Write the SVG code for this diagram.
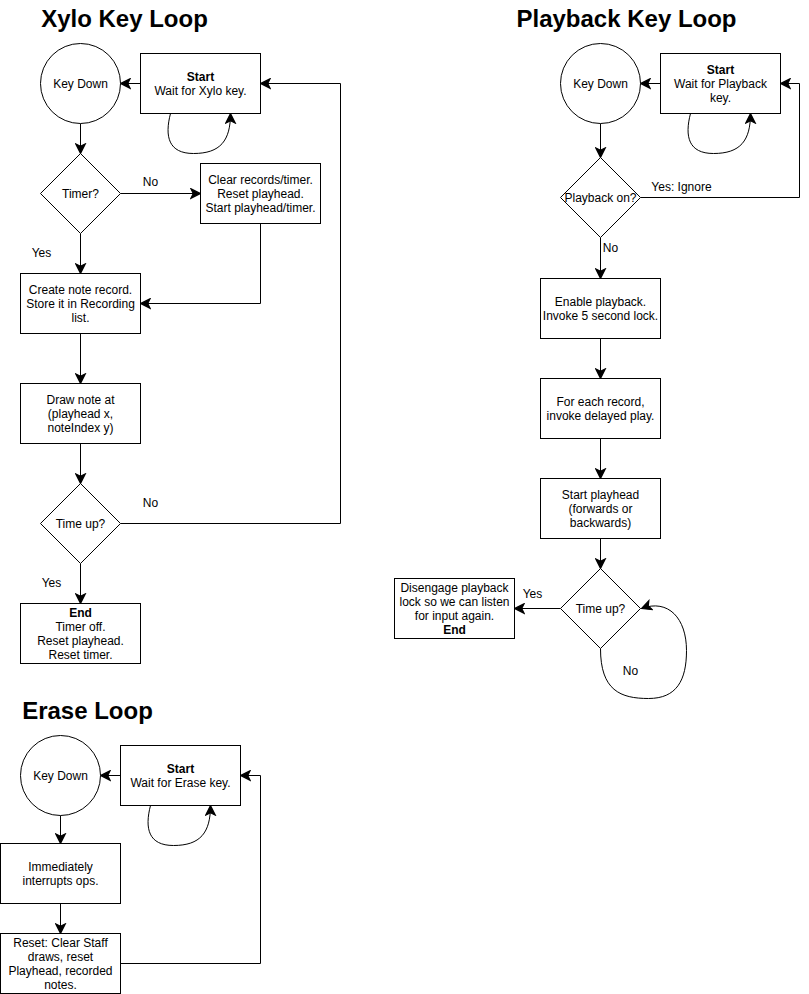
<svg xmlns="http://www.w3.org/2000/svg" width="809" height="994" viewBox="0 0 809 994">
  <style>
    .shape { fill: #ffffff; stroke: #000000; stroke-width: 1; }
    .edge { fill: none; stroke: #000000; stroke-width: 1; }
    .arrow { marker-end: url(#arrowhead); }
    text { font-family: "Liberation Sans", Arial, Helvetica, sans-serif; font-size: 12px; fill: #000000; text-anchor: middle; }
    .title { font-size: 24px; font-weight: bold; }
    .b { font-weight: bold; }
    .lbl { fill: #000000; }
  </style>
  <defs>
    <marker id="arrowhead" markerUnits="userSpaceOnUse" markerWidth="12" markerHeight="12" viewBox="-9 -5 10 10" refX="0" refY="0" orient="auto">
      <path d="M0,0 L-8,-4 L-6,0 L-8,4 Z" fill="#000000" stroke="#000000" stroke-width="1" stroke-linejoin="miter"/>
    </marker>
  </defs>
  <rect x="0" y="0" width="809" height="994" fill="#ffffff"/>

  <g transform="translate(0.5,0.5)">
    <!-- Section titles -->
    <text class="title" x="124" y="26">Xylo Key Loop</text>
    <text class="title" x="626" y="26">Playback Key Loop</text>
    <text class="title" x="87" y="718">Erase Loop</text>

    <!-- Connectors -->
    <g id="connectors">
      <!-- Xylo key loop -->
      <path class="edge arrow" d="M140 83 L120 83"/>
      <path class="edge arrow" d="M170 113 C 164 136, 168 153, 193 153 C 220 153, 230 140, 230 113"/>
      <path class="edge arrow" d="M80 123 L80 153"/>
      <path class="edge arrow" d="M120 193 L200 193"/>
      <path class="edge arrow" d="M80 233 L80 273"/>
      <path class="edge arrow" d="M260 223 L260 303 L140 303"/>
      <path class="edge arrow" d="M80 333 L80 383"/>
      <path class="edge arrow" d="M80 443 L80 483"/>
      <path class="edge arrow" d="M120 523 L340 523 L340 83 L260 83"/>
      <path class="edge arrow" d="M80 563 L80 603"/>

      <!-- Playback key loop -->
      <path class="edge arrow" d="M660 83 L640 83"/>
      <path class="edge arrow" d="M690 113 C 684 136, 688 153, 713 153 C 740 153, 750 140, 750 113"/>
      <path class="edge arrow" d="M600 123 L600 157"/>
      <path class="edge arrow" d="M640 197 L799 197 L799 83 L780 83"/>
      <path class="edge arrow" d="M600 237 L600 278"/>
      <path class="edge arrow" d="M600 338 L600 378"/>
      <path class="edge arrow" d="M600 438 L600 478"/>
      <path class="edge arrow" d="M600 538 L600 568"/>
      <path class="edge arrow" d="M560 608 L514 608"/>
      <path class="edge arrow" d="M600 648 C 600 690, 620 698, 648 698 C 676 698, 686 680, 686 650 C 686 618, 668 598, 641 608"/>

      <!-- Erase loop -->
      <path class="edge arrow" d="M120 775 L100 775"/>
      <path class="edge arrow" d="M150 805 C 144 828, 148 845, 173 845 C 200 845, 210 832, 210 805"/>
      <path class="edge arrow" d="M60 815 L60 843"/>
      <path class="edge arrow" d="M60 903 L60 933"/>
      <path class="edge arrow" d="M120 963 L260 963 L260 775 L240 775"/>
    </g>

    <!-- Connector labels -->
    <g id="edge-labels">
      <text x="150" y="185">No</text>
      <text x="41" y="256">Yes</text>
      <text x="150" y="506">No</text>
      <text x="51" y="586">Yes</text>
      <text x="681" y="190" >Yes: Ignore</text>
      <text x="610" y="251">No</text>
      <text x="532" y="597">Yes</text>
      <text x="630" y="674">No</text>
    </g>

    <!-- Xylo key loop nodes -->
    <g id="xylo-keydown">
      <circle class="shape" cx="80" cy="83" r="40"/>
      <text x="80" y="87.5">Key Down</text>
    </g>
    <g id="xylo-start">
      <rect class="shape" x="140" y="53" width="120" height="60"/>
      <text class="b" x="200" y="80.5">Start</text>
      <text x="200" y="94.5">Wait for Xylo key.</text>
    </g>
    <g id="xylo-timer">
      <polygon class="shape" points="80,153 120,193 80,233 40,193"/>
      <text x="80" y="197.5">Timer?</text>
    </g>
    <g id="xylo-clear">
      <rect class="shape" x="200" y="163" width="120" height="60"/>
      <text x="260" y="183.5">Clear records/timer.</text>
      <text x="260" y="197.5">Reset playhead.</text>
      <text x="260" y="211.5">Start playhead/timer.</text>
    </g>
    <g id="xylo-create">
      <rect class="shape" x="20" y="273" width="120" height="60"/>
      <text x="80" y="293.5">Create note record.</text>
      <text x="80" y="307.5">Store it in Recording</text>
      <text x="80" y="321.5">list.</text>
    </g>
    <g id="xylo-draw">
      <rect class="shape" x="20" y="383" width="120" height="60"/>
      <text x="80" y="403.5">Draw note at</text>
      <text x="80" y="417.5">(playhead x,</text>
      <text x="80" y="431.5">noteIndex y)</text>
    </g>
    <g id="xylo-timeup">
      <polygon class="shape" points="80,483 120,523 80,563 40,523"/>
      <text x="80" y="527.5">Time up?</text>
    </g>
    <g id="xylo-end">
      <rect class="shape" x="20" y="603" width="120" height="60"/>
      <text class="b" x="80" y="616.5">End</text>
      <text x="80" y="630.5">Timer off.</text>
      <text x="80" y="644.5">Reset playhead.</text>
      <text x="80" y="658.5">Reset timer.</text>
    </g>

    <!-- Playback key loop nodes -->
    <g id="playback-keydown">
      <circle class="shape" cx="600" cy="83" r="40"/>
      <text x="600" y="87.5">Key Down</text>
    </g>
    <g id="playback-start">
      <rect class="shape" x="660" y="53" width="120" height="60"/>
      <text class="b" x="720" y="73.5">Start</text>
      <text x="720" y="87.5">Wait for Playback</text>
      <text x="720" y="101.5">key.</text>
    </g>
    <g id="playback-on">
      <polygon class="shape" points="600,157 640,197 600,237 560,197"/>
      <text x="600" y="201.5">Playback on?</text>
    </g>
    <g id="playback-enable">
      <rect class="shape" x="540" y="278" width="120" height="60"/>
      <text x="600" y="305.5">Enable playback.</text>
      <text x="600" y="319.5">Invoke 5 second lock.</text>
    </g>
    <g id="playback-each">
      <rect class="shape" x="540" y="378" width="120" height="60"/>
      <text x="600" y="405.5">For each record,</text>
      <text x="600" y="419.5">invoke delayed play.</text>
    </g>
    <g id="playback-playhead">
      <rect class="shape" x="540" y="478" width="120" height="60"/>
      <text x="600" y="498.5">Start playhead</text>
      <text x="600" y="512.5">(forwards or</text>
      <text x="600" y="526.5">backwards)</text>
    </g>
    <g id="playback-timeup">
      <polygon class="shape" points="600,568 640,608 600,648 560,608"/>
      <text x="600" y="612.5">Time up?</text>
    </g>
    <g id="playback-end">
      <rect class="shape" x="394" y="578" width="120" height="60"/>
      <text x="454" y="591.5">Disengage playback</text>
      <text x="454" y="605.5">lock so we can listen</text>
      <text x="454" y="619.5">for input again.</text>
      <text class="b" x="454" y="633.5">End</text>
    </g>

    <!-- Erase loop nodes -->
    <g id="erase-keydown">
      <circle class="shape" cx="60" cy="775" r="40"/>
      <text x="60" y="779.5">Key Down</text>
    </g>
    <g id="erase-start">
      <rect class="shape" x="120" y="745" width="120" height="60"/>
      <text class="b" x="180" y="772.5">Start</text>
      <text x="180" y="786.5">Wait for Erase key.</text>
    </g>
    <g id="erase-interrupt">
      <rect class="shape" x="0" y="843" width="120" height="60"/>
      <text x="60" y="870.5">Immediately</text>
      <text x="60" y="884.5">interrupts ops.</text>
    </g>
    <g id="erase-reset">
      <rect class="shape" x="0" y="933" width="120" height="60"/>
      <text x="60" y="946.5">Reset: Clear Staff</text>
      <text x="60" y="960.5">draws, reset</text>
      <text x="60" y="974.5">Playhead, recorded</text>
      <text x="60" y="988.5">notes.</text>
    </g>
  </g>
</svg>
